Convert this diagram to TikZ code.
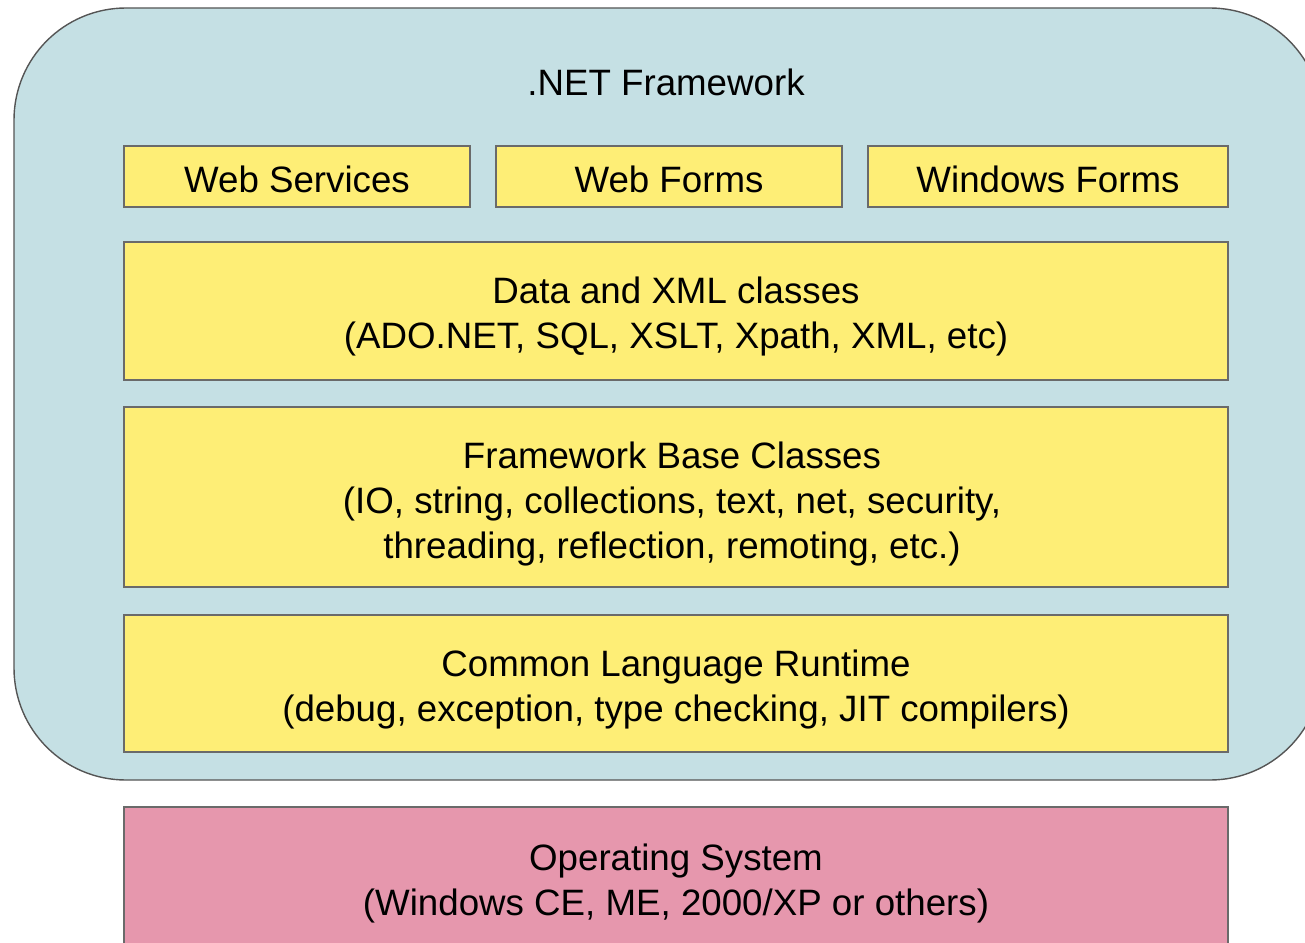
\documentclass[tikz,border=0pt]{standalone}
\usepackage{fontspec}
\setmainfont{Liberation Sans}
\definecolor{netblue}{HTML}{C5E0E4}
\definecolor{layeryellow}{HTML}{FEEE76}
\definecolor{ospink}{HTML}{E697AD}
\definecolor{edgegray}{HTML}{6A6A6A}
\begin{document}
\begin{tikzpicture}[x=1pt,y=-1pt,
  txt/.style={font=\fontsize{36.7}{45}\selectfont, align=center, inner sep=0pt, text=black},
  layer/.style={draw=edgegray, line width=1.3pt, fill=layeryellow}]
\useasboundingbox (0,0) rectangle (1305,942);
\clip (0,0) rectangle (1305,942);
% outer framework container
\draw[draw=edgegray!80!black, line width=1.4pt, fill=netblue, rounded corners=112pt] (14,8) rectangle (1322,780);
\node[txt] (net) at (666,82) {.NET Framework};
% top row
\draw[layer] (124,146) rectangle (470,207);
\node[txt] (ws) at (297,179) {Web Services};
\draw[layer] (496,146) rectangle (842,207);
\node[txt] (wf) at (669,179) {Web Forms};
\draw[layer] (868,146) rectangle (1228,207);
\node[txt] (winf) at (1048,179) {Windows Forms};
% data
\draw[layer] (124,242) rectangle (1228,380);
\node[txt] (data) at (676,317) {Data and XML classes\\(ADO.NET, SQL, XSLT, Xpath, XML, etc)};
% base classes
\draw[layer] (124,407) rectangle (1228,587);
\node[txt] (fbc) at (672,504) {Framework Base Classes\\(IO, string, collections, text, net, security,\\ threading, reflection, remoting, etc.)};
% CLR
\draw[layer] (124,615) rectangle (1228,752);
\node[txt] (clr) at (676,690) {Common Language Runtime\\(debug, exception, type checking, JIT compilers)};
% OS
\draw[draw=edgegray, line width=1.3pt, fill=ospink] (124,807) rectangle (1228,970);
\node[txt] (os) at (676,883) {Operating System\\(Windows CE, ME, 2000/XP or others)};
\end{tikzpicture}
\end{document}
